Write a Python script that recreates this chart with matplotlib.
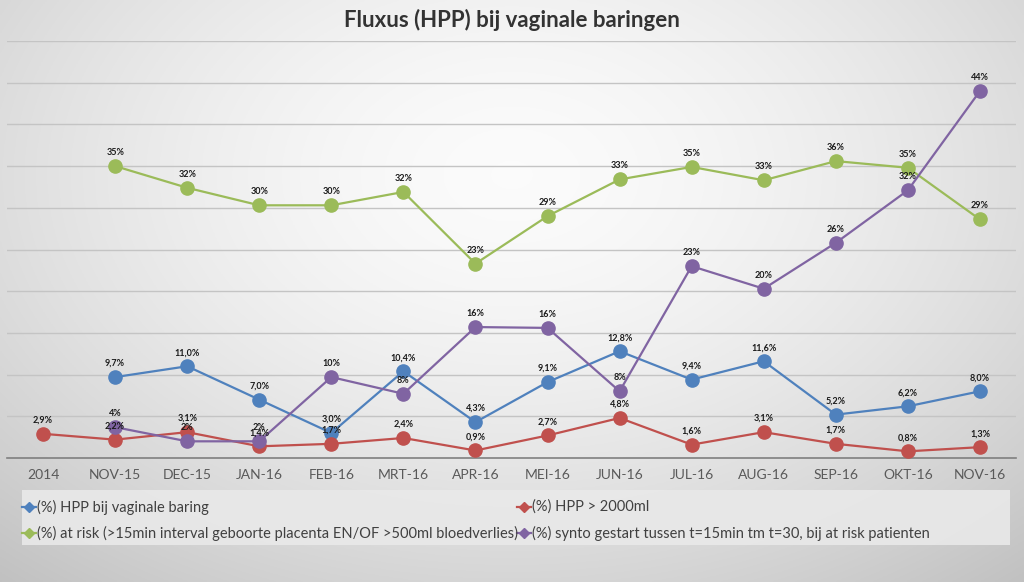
import numpy as np
import matplotlib.pyplot as plt
from matplotlib.lines import Line2D
from matplotlib.patches import Rectangle

plt.rcParams['font.family'] = ['Lato', 'DejaVu Sans']

months = ['2014', 'NOV-15', 'DEC-15', 'JAN-16', 'FEB-16', 'MRT-16', 'APR-16',
          'MEI-16', 'JUN-16', 'JUL-16', 'AUG-16', 'SEP-16', 'OKT-16', 'NOV-16']

hpp_vaginaal = [None, 9.7, 11.0, 7.0, 3.0, 10.4, 4.3, 9.1, 12.8, 9.4, 11.6, 5.2, 6.2, 8.0]
hpp_2000 = [2.9, 2.2, 3.1, 1.4, 1.7, 2.4, 0.9, 2.7, 4.8, 1.6, 3.1, 1.7, 0.8, 1.3]
at_risk = [None, 35.0, 32.4, 30.3, 30.3, 31.9, 23.3, 29.0, 33.4, 34.9, 33.3, 35.6, 34.8, 28.6]
synto = [None, 3.7, 2.0, 2.0, 9.7, 7.7, 15.7, 15.6, 8.0, 23.0, 20.3, 25.8, 32.1, 44.0]

names = ['(%) HPP bij vaginale baring',
         '(%) HPP > 2000ml',
         '(%) at risk (>15min interval geboorte placenta EN/OF >500ml bloedverlies)',
         '(%) synto gestart tussen t=15min tm t=30, bij at risk patienten']
colors = ['#4F81BD', '#C0504D', '#9BBB59', '#8064A2']

fig = plt.figure(figsize=(10.24, 5.82), dpi=100)

# background gradient
bg = fig.add_axes([0, 0, 1, 1], zorder=-10)
yy, xx = np.mgrid[0:1:300j, 0:1:500j]
r = np.sqrt(((xx - 0.5) / 0.75) ** 2 + ((yy - 0.3) / 0.9) ** 2)
shade = np.clip(0.985 - 0.22 * r ** 1.6, 0.74, 1)
bg.imshow(np.dstack([shade] * 3), extent=[0, 1, 0, 1], aspect='auto', origin='upper')
bg.axis('off')

ax = fig.add_axes([7 / 1024, 1 - 458 / 582, 1009 / 1024, 417 / 582])
ax.set_facecolor('none')
x = np.arange(len(months))

series = [hpp_vaginaal, hpp_2000, at_risk, synto]
decimals = [True, True, False, False]
for vals, col, dec in zip(series, colors, decimals):
    xs = [i for i, v in zip(x, vals) if v is not None]
    ys = [v for v in vals if v is not None]
    ax.plot(xs, ys, color=col, lw=1.6, marker='o', markersize=9.5,
            markerfacecolor=col, markeredgecolor=col, zorder=3)
    for xi, yi in zip(xs, ys):
        lab = f'{yi:.1f}%'.replace('.', ',') if dec else f'{yi:.0f}%'
        ax.annotate(lab, (xi, yi), xytext=(0, 6.5), textcoords='offset points',
                    ha='center', va='bottom', fontsize=6.5, fontweight='bold',
                    color='#1a1a1a', zorder=5)

ax.set_xlim(-0.5, len(months) - 0.5)
ax.set_ylim(0, 50)
ax.set_yticks(np.arange(5, 51, 5))
ax.yaxis.grid(True, color='#c4c4c4', lw=1)
ax.set_axisbelow(True)
for s in ['top', 'right', 'left']:
    ax.spines[s].set_visible(False)
ax.spines['bottom'].set_color('#7f7f7f')
ax.spines['bottom'].set_linewidth(1.2)
ax.tick_params(axis='y', left=False, labelleft=False)
ax.tick_params(axis='x', length=0, pad=8)
ax.set_xticks(x)
ax.set_xticklabels(months, fontsize=10, color='#595959')

fig.text(0.5, 1 - 20 / 582, 'Fluxus (HPP) bij vaginale baringen', ha='center', va='center',
         fontsize=16, fontweight='bold', color='#333333')

# legend box
fig.patches.append(Rectangle((22 / 1024, 1 - 545 / 582), 988 / 1024, 55 / 582,
                             transform=fig.transFigure, facecolor='#e9e9e9',
                             edgecolor='none', alpha=0.9, zorder=1))
leg_pos = [(25, 507), (520, 507), (25, 533), (520, 533)]
for (px, py), name, col in zip(leg_pos, names, colors):
    fx, fy = px / 1024, 1 - py / 582
    fig.add_artist(Line2D([fx - 3 / 1024, fx + 11 / 1024], [fy, fy], color=col, lw=1.6,
                          transform=fig.transFigure, zorder=2))
    fig.add_artist(Line2D([fx + 4 / 1024], [fy], color=col, marker='D', markersize=5,
                          transform=fig.transFigure, zorder=3))
    fig.text(fx + 12 / 1024, fy, name, ha='left', va='center', fontsize=10.5,
             color='#404040', zorder=3)

fig.savefig('out.png', dpi=100)
